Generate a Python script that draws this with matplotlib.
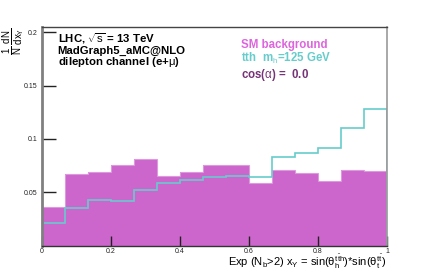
import numpy as np
import matplotlib
matplotlib.use("Agg")
import matplotlib.pyplot as plt

plt.rcParams['font.family'] = ['Liberation Sans', 'DejaVu Sans']
plt.rcParams['mathtext.fontset'] = 'custom'
plt.rcParams['mathtext.rm'] = 'Liberation Sans'
plt.rcParams['mathtext.it'] = 'Liberation Sans'
plt.rcParams['mathtext.bf'] = 'Liberation Sans:bold'

# 15 bins over [0, 1]
bin_edges = np.linspace(0, 1, 16)
sm_background = [0.0365, 0.0669, 0.0693, 0.0756, 0.0810, 0.0650, 0.0693, 0.0752,
                 0.0756, 0.0584, 0.0709, 0.0678, 0.0609, 0.0709, 0.0703]
tth_signal = [0.0212, 0.0353, 0.0428, 0.0421, 0.0519, 0.0590, 0.0612, 0.0640,
              0.0653, 0.0647, 0.0828, 0.0866, 0.0913, 0.1100, 0.1280]

xticks = [0, 0.2, 0.4, 0.6, 0.8, 1]
xticklabels = ['0', '0.2', '0.4', '0.6', '0.8', '1']
yticks = [0.05, 0.1, 0.15, 0.2]
yticklabels = ['0.05', '0.1', '0.15', '0.2']

bg_col = '#cc66cc'
sig_col = '#66cccc'

fig = plt.figure(figsize=(4.3, 2.73), dpi=100)
ax = fig.add_axes([0.0977, 0.1004, 0.8023, 0.8006])

ax.stairs(sm_background, bin_edges, fill=True, color=bg_col, lw=0)
ax.stairs(sm_background, bin_edges, color='#dd99dd', lw=0.8)
ax.stairs(tth_signal, bin_edges, color=sig_col, lw=1.2)

ax.set_xlim(0, 1)
ax.set_ylim(0, 0.205)
ax.set_xticks(xticks)
ax.set_xticklabels(xticklabels)
ax.set_yticks(yticks)
ax.set_yticklabels(yticklabels)
ax.tick_params(axis='x', direction='in', length=7, width=1, labelsize=5,
               colors='#222222', pad=1.5)
ax.tick_params(axis='y', direction='in', length=10, width=1, labelsize=5,
               colors='#222222', pad=3)

ax.spines['left'].set_color('#808080')
ax.spines['left'].set_linewidth(2)
ax.spines['bottom'].set_color('#333333')
ax.spines['bottom'].set_linewidth(1)
ax.spines['top'].set_color('#444444')
ax.spines['top'].set_linewidth(1)
ax.spines['right'].set_color('#999999')
ax.spines['right'].set_linewidth(1.2)

# labels
fig.text(0.899, 0.024,
         r'Exp (N$_{b}$>2) x$_{Y}$ = sin($\theta_{h}^{t\bar{t}h}$)*sin($\theta_{t}^{t\bar{t}}$)',
         ha='right', va='baseline', fontsize=8)
fig.text(0.032, 0.90, r'$\frac{1}{N}\,\frac{dN}{dx_{Y}}$', rotation=90,
         ha='center', va='top', fontsize=10)

# annotation text
ax.text(0.045, 0.93, r'LHC, $\sqrt{s}$ = 13 TeV', transform=ax.transAxes,
        fontsize=8.2, fontweight='bold', va='baseline')
ax.text(0.045, 0.878, 'MadGraph5_aMC@NLO', transform=ax.transAxes,
        fontsize=8.2, fontweight='bold', va='baseline')
ax.text(0.045, 0.828, r'dilepton channel (e+$\mu$)', transform=ax.transAxes,
        fontsize=8.2, fontweight='bold', va='baseline')

ax.text(0.577, 0.905, 'SM background', transform=ax.transAxes,
        fontsize=8.3, fontweight='bold', color='#dd66dd', va='baseline')
ax.text(0.577, 0.842, r'tth  m$_{h}$=125 GeV', transform=ax.transAxes,
        fontsize=8.3, fontweight='bold', color=sig_col, va='baseline')
ax.text(0.577, 0.768, r'cos($\alpha$) =  0.0', transform=ax.transAxes,
        fontsize=8.3, fontweight='bold', color='#773377', va='baseline')

fig.savefig('out.png', dpi=100)
